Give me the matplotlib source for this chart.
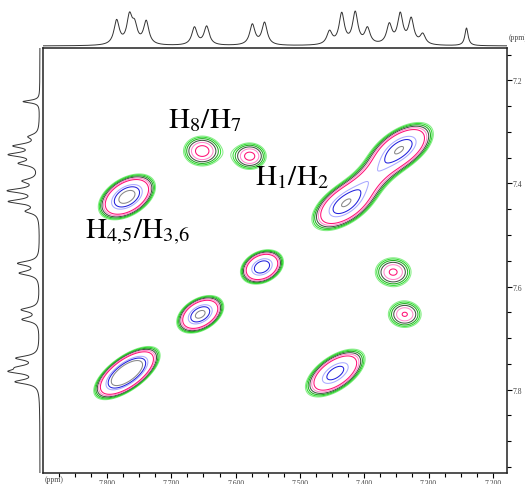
import numpy as np
import matplotlib
matplotlib.use("Agg")
import matplotlib.pyplot as plt
from matplotlib.ticker import MultipleLocator, FormatStrFormatter

plt.rcParams["mathtext.fontset"] = "stix"

# 2D cross/diagonal peaks (ppm): centre, width along/across the diagonal, height
pk_x = [7.652, 7.578, 7.430, 7.387, 7.344, 7.769, 7.559, 7.655, 7.769, 7.445, 7.355, 7.337]
pk_y = [7.337, 7.347, 7.440, 7.387, 7.333, 7.426, 7.562, 7.654, 7.768, 7.768, 7.572, 7.654]
pk_su = [0.021, 0.019, 0.034, 0.03, 0.034, 0.027, 0.020, 0.0224, 0.031, 0.0316, 0.021, 0.0195]
pk_sv = [0.021, 0.019, 0.018, 0.016, 0.018, 0.017, 0.015, 0.0146, 0.014, 0.0163, 0.021, 0.0195]
pk_amp = [2.6, 2.5, 6.0, 2.4, 6.0, 7.0, 6.0, 6.5, 10.0, 5.5, 2.4, 2.35]

# 1D projection lines (ppm) and heights
line_ppm = [7.785, 7.765, 7.757, 7.739, 7.664, 7.645, 7.574, 7.555, 7.454, 7.435,
            7.414, 7.395, 7.361, 7.344, 7.327, 7.309, 7.241]
line_h = [26, 29, 18, 25, 19, 20, 22, 24, 14, 33, 34, 17, 21, 32, 27, 11, 19]
line_w = [0.005] * 16 + [0.003]

levels = [1.0, 1.15, 1.35, 1.6, 1.9, 2.3, 4.0, 4.8, 6.0]
level_colors = ["#88ee88", "#33dd33", "#22aa22", "#445544", "#ff88cc", "#ff1177",
                "#aaaaff", "#2222dd", "#888888"]

x_lim = (7.8995, 7.178)
y_lim = (7.962, 7.137)

fig = plt.figure(figsize=(5.25, 4.85), dpi=100)
ax = fig.add_axes([43 / 525, 1 - 474 / 485, 464 / 525, 425 / 485])
ax_top = fig.add_axes([43 / 525, 1 - 49 / 485, 464 / 525, 49 / 485])
ax_left = fig.add_axes([0, 1 - 474 / 485, 43 / 525, 425 / 485])

# contour field
gx = np.linspace(7.17, 7.91, 600)
gy = np.linspace(7.13, 7.97, 600)
X, Y = np.meshgrid(gx, gy)
Z = np.zeros_like(X)
for cx, cy, su, sv, a in zip(pk_x, pk_y, pk_su, pk_sv, pk_amp):
    dx = cx - X
    dy = cy - Y
    u = (dx + dy) / np.sqrt(2)
    v = (dx - dy) / np.sqrt(2)
    Z += a * np.exp(-0.5 * (u ** 2 / su ** 2 + v ** 2 / sv ** 2))

ax.contour(X, Y, Z, levels=levels, colors=level_colors, linewidths=0.75)
ax.set_xlim(*x_lim)
ax.set_ylim(*y_lim)

ax.xaxis.set_major_locator(MultipleLocator(0.1))
ax.xaxis.set_minor_locator(MultipleLocator(0.025))
ax.xaxis.set_major_formatter(FormatStrFormatter("%.3f"))
ax.yaxis.tick_right()
ax.yaxis.set_major_locator(MultipleLocator(0.2))
ax.yaxis.set_minor_locator(MultipleLocator(0.05))
ax.yaxis.set_major_formatter(FormatStrFormatter("%.1f"))
ax.tick_params(axis="both", which="both", direction="out", labelsize=5.5,
               labelcolor="#444444", width=0.8, pad=0.8)
ax.tick_params(which="major", length=3.5)
ax.tick_params(which="minor", length=3)
for lab in ax.get_xticklabels() + ax.get_yticklabels():
    lab.set_family("Liberation Serif")
for s in ax.spines.values():
    s.set_linewidth(1.1)
    s.set_color("#222222")

ax.text(7.648, 7.290, r"$\mathrm{H_8/H_7}$", fontsize=21, ha="center", va="baseline")
ax.text(7.570, 7.401, r"$\mathrm{H_1/H_2}$", fontsize=21, ha="left", va="baseline")
ax.text(7.834, 7.504, r"$\mathrm{H_{4{,}5}/H_{3{,}6}}$", fontsize=21, ha="left", va="baseline")

fig.text(45 / 525, 1 - 480 / 485, "(ppm)", fontsize=5.5, family="Liberation Serif",
         color="#444444", va="center")
fig.text(509 / 525, 1 - 38 / 485, "(ppm)", fontsize=5.5, family="Liberation Serif",
         color="#444444", va="center")

# 1D spectra
def spectrum(p):
    s = np.zeros_like(p)
    for c, h, w in zip(line_ppm, line_h, line_w):
        s += h * w ** 2 / ((p - c) ** 2 + w ** 2)
    return s

px = np.linspace(x_lim[0], x_lim[1], 2000)
sx = spectrum(px)
M = sx.max()
ax_top.plot(px, sx, color="#333333", lw=0.7)
ax_top.set_xlim(*x_lim)
ax_top.set_ylim(-M * 2 / 35, M * 47 / 35)
ax_top.axis("off")

py = np.linspace(7.137, 7.962, 2000)
sy = spectrum(py)
ax_left.plot(sy, py, color="#333333", lw=0.7)
ax_left.set_ylim(*y_lim)
ax_left.set_xlim(M * 40 / 33, -M * 3 / 33)
ax_left.axis("off")

fig.savefig("out.png", dpi=100)
